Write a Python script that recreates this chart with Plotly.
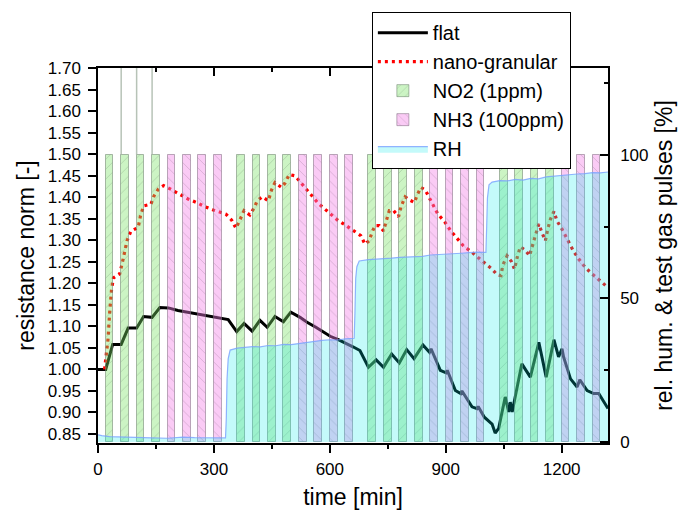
import plotly.graph_objects as go

# ---------------- data ----------------
# flat sensor: normalised resistance vs time [min]
flat_t = [0, 20, 38, 60, 78, 100, 118, 140, 160, 182, 207, 238, 264, 290, 315, 337, 359, 378, 399, 419,
          438, 458, 480, 499, 523, 540, 566, 601, 622, 644, 661, 678, 700, 720, 739, 760, 780, 799, 818,
          841, 858, 862, 886, 901, 904, 925, 939, 942, 968, 981, 984, 1000, 1020, 1028, 1037, 1054, 1063,
          1067, 1072, 1097, 1119, 1141, 1160, 1180, 1192, 1201, 1205, 1223, 1240, 1247, 1266, 1283,
          1296, 1320]
flat_v = [1.000, 1.000, 1.058, 1.058, 1.096, 1.096, 1.123, 1.121, 1.144, 1.143, 1.137, 1.132, 1.129,
          1.124, 1.121, 1.116, 1.088, 1.107, 1.089, 1.114, 1.098, 1.123, 1.111, 1.133, 1.121, 1.110,
          1.097, 1.077, 1.069, 1.060, 1.052, 1.044, 1.005, 1.022, 1.005, 1.036, 1.015, 1.046, 1.025,
          1.057, 1.040, 1.048, 0.998, 0.992, 0.998, 0.951, 0.944, 0.950, 0.913, 0.909, 0.914, 0.889,
          0.873, 0.852, 0.863, 0.936, 0.901, 0.924, 0.901, 1.013, 0.982, 1.063, 0.982, 1.069, 1.029,
          1.048, 1.029, 0.978, 0.959, 0.976, 0.951, 0.944, 0.944, 0.909]

# nano-granular sensor
nano_t = [17, 22, 26, 30, 35, 40, 56, 63, 69, 75, 85, 104, 110, 118, 137, 145, 156, 170, 188, 212, 233,
          255, 277, 300, 311, 331, 346, 357, 367, 378, 393, 404, 412, 425, 441, 449, 458, 475, 484, 495,
          510, 525, 540, 557, 570, 588, 602, 620, 641, 659, 680, 691, 702, 709, 717, 728, 739, 746, 754,
          765, 778, 784, 795, 808, 819, 827, 836, 847, 858, 879, 899, 913, 929, 946, 968, 988, 1002,
          1020, 1033, 1043, 1048, 1059, 1070, 1078, 1086, 1093, 1106, 1117, 1128, 1141, 1149, 1158,
          1164, 1171, 1180, 1188, 1201, 1216, 1230, 1244, 1261, 1279, 1296, 1311, 1320]
nano_v = [1.000, 1.044, 1.071, 1.130, 1.185, 1.213, 1.222, 1.248, 1.272, 1.299, 1.321, 1.330, 1.357,
          1.380, 1.384, 1.403, 1.419, 1.427, 1.419, 1.407, 1.396, 1.388, 1.378, 1.370, 1.367, 1.361,
          1.347, 1.328, 1.347, 1.369, 1.359, 1.375, 1.392, 1.401, 1.392, 1.417, 1.434, 1.423, 1.433,
          1.453, 1.450, 1.434, 1.417, 1.401, 1.386, 1.372, 1.361, 1.347, 1.335, 1.324, 1.311, 1.291,
          1.299, 1.318, 1.334, 1.334, 1.322, 1.345, 1.369, 1.369, 1.355, 1.378, 1.401, 1.393, 1.388,
          1.407, 1.423, 1.417, 1.399, 1.362, 1.341, 1.322, 1.305, 1.287, 1.272, 1.257, 1.245, 1.233,
          1.220, 1.218, 1.243, 1.264, 1.251, 1.233, 1.264, 1.285, 1.277, 1.264, 1.299, 1.338, 1.318,
          1.299, 1.326, 1.349, 1.367, 1.345, 1.326, 1.299, 1.276, 1.257, 1.237, 1.222, 1.208, 1.195,
          1.190]

# gas pulses: start times [min], duration [min], concentration level [%]
no2_start = [20, 60, 100, 140, 360, 400, 440, 480, 700, 740, 780, 820, 1040, 1080, 1120, 1160]
nh3_start = [180, 220, 260, 300, 520, 560, 600, 640, 860, 900, 940, 980, 1200, 1240, 1280]
pulse_duration = 20
pulse_level = 100

# relative humidity [%]
rh_t = [0, 10, 30, 60, 100, 140, 180, 200, 220, 250, 280, 300, 320, 330, 332, 334, 337, 342, 360, 380,
        400, 420, 440, 460, 480, 500, 520, 540, 560, 580, 600, 620, 640, 660, 663, 665, 667, 670, 676,
        700, 720, 740, 760, 780, 800, 820, 840, 860, 880, 900, 920, 940, 960, 980, 1000, 1004, 1006,
        1008, 1012, 1020, 1040, 1060, 1080, 1100, 1120, 1140, 1160, 1180, 1200, 1220, 1240, 1260,
        1280, 1300, 1320]
rh_v = [2.5, 2.2, 1.9, 1.7, 1.5, 1.4, 1.3, 1.6, 1.7, 1.5, 1.4, 1.5, 1.4, 1.4, 8, 22, 29, 32, 32.7, 32.9,
        33.2, 33.1, 33.6, 33.5, 34.0, 33.9, 34.3, 34.6, 35.2, 35.4, 35.6, 35.5, 35.9, 36.1, 36.1, 45, 57,
        61, 63, 63.5, 63.6, 63.8, 64.0, 64.3, 64.4, 64.6, 64.6, 65.1, 65.2, 65.4, 65.6, 65.7, 65.9, 66.1,
        66.0, 66.0, 75, 85, 89.5, 90.5, 91.0, 90.9, 91.4, 91.2, 91.8, 91.6, 92.3, 92.6, 92.9, 93.2, 93.3,
        93.4, 93.8, 93.7, 94.0]

# thin vertical artefact lines above first NO2 pulses
artefact_t = [60, 100, 140]

# axis ranges
x_range = [0, 1320]
y_left_range = [0.829, 1.7005]
y_right_range = [-0.35, 130.2]

FONT = "Liberation Sans, Arial, sans-serif"

fig = go.Figure()

fig.add_trace(go.Scatter(x=flat_t, y=flat_v, mode="lines", name="flat",
                         line=dict(color="black", width=3), xaxis="x", yaxis="y"))
fig.add_trace(go.Scatter(x=nano_t, y=nano_v, mode="lines", name="nano-granular",
                         line=dict(color="#ff0000", width=3.2, dash="3px,4px"), xaxis="x", yaxis="y"))

fig.add_trace(go.Bar(x=no2_start, y=[pulse_level] * len(no2_start), width=pulse_duration, offset=0,
                     name="NO2 (1ppm)", xaxis="x2", yaxis="y2",
                     marker=dict(color="rgba(120,225,100,0.38)",
                                 line=dict(color="rgba(110,130,110,0.55)", width=1),
                                 pattern=dict(shape="/", fillmode="overlay", size=7, solidity=0.12,
                                              bgcolor="rgba(120,225,100,0.38)",
                                              fgcolor="rgba(90,120,90,0.55)"))))
fig.add_trace(go.Bar(x=nh3_start, y=[pulse_level] * len(nh3_start), width=pulse_duration, offset=0,
                     name="NH3 (100ppm)", xaxis="x2", yaxis="y2",
                     marker=dict(color="rgba(242,125,230,0.40)",
                                 line=dict(color="rgba(130,110,130,0.55)", width=1),
                                 pattern=dict(shape="\\", fillmode="overlay", size=7, solidity=0.12,
                                              bgcolor="rgba(242,125,230,0.40)",
                                              fgcolor="rgba(120,90,120,0.55)"))))
fig.add_trace(go.Scatter(x=rh_t, y=rh_v, mode="lines", name="RH", fill="tozeroy",
                         fillcolor="rgba(0,235,235,0.23)",
                         line=dict(color="rgba(120,160,255,0.8)", width=1.2),
                         xaxis="x2", yaxis="y2"))

art_x, art_y = [], []
for t in artefact_t:
    art_x += [t, t, None]
    art_y += [pulse_level, y_right_range[1], None]
fig.add_trace(go.Scatter(x=art_x, y=art_y, mode="lines", showlegend=False, hoverinfo="skip",
                         line=dict(color="rgba(165,180,165,0.8)", width=1.5),
                         xaxis="x2", yaxis="y2"))

axis_common = dict(showline=True, linecolor="black", linewidth=1.5, showgrid=False, zeroline=False,
                   tickcolor="black", tickwidth=1.5,
                   tickfont=dict(family=FONT, size=17, color="black"))

fig.update_layout(
    width=682, height=513,
    margin=dict(l=98, r=74, t=68, b=70, autoexpand=False),
    plot_bgcolor="white", paper_bgcolor="white",
    barmode="overlay", bargap=0,
    font=dict(family=FONT, color="black"),
    xaxis=dict(range=x_range, tick0=0, dtick=300, ticks="outside", ticklen=8,
               minor=dict(dtick=150, ticks="outside", ticklen=4, tickcolor="black", tickwidth=1.5),
               title=dict(text="time [min]", font=dict(family=FONT, size=23), standoff=11),
               ticklabelstandoff=2, **axis_common),
    xaxis2=dict(range=x_range, overlaying="x", side="top", anchor="y", tick0=0, dtick=300,
                ticks="inside", ticklen=8, showticklabels=False,
                minor=dict(dtick=150, ticks="inside", ticklen=4, tickcolor="black", tickwidth=1.5),
                **axis_common),
    yaxis=dict(range=y_left_range, tick0=0, dtick=0.05, tickformat=".2f", ticks="outside", ticklen=8,
               title=dict(text="resistance norm [-]", font=dict(family=FONT, size=23), standoff=7),
               ticklabelstandoff=4, **axis_common),
    yaxis2=dict(range=y_right_range, overlaying="y", side="right", anchor="x", tick0=0, dtick=50,
                ticks="inside", ticklen=8,
                minor=dict(dtick=25, ticks="inside", ticklen=4, tickcolor="black", tickwidth=1.5),
                title=dict(text="rel. hum. & test gas pulses [%]", font=dict(family=FONT, size=23),
                           standoff=8),
                ticklabelstandoff=7, **axis_common),
    legend=dict(x=0.537, y=1.149, xanchor="left", yanchor="top", bgcolor="white",
                bordercolor="black", borderwidth=1, font=dict(family=FONT, size=20, color="black"),
                tracegroupgap=0, itemwidth=50),
)

fig.write_html("out.html", config={"displayModeBar": False},
               post_script="document.body.style.margin='0px';")
